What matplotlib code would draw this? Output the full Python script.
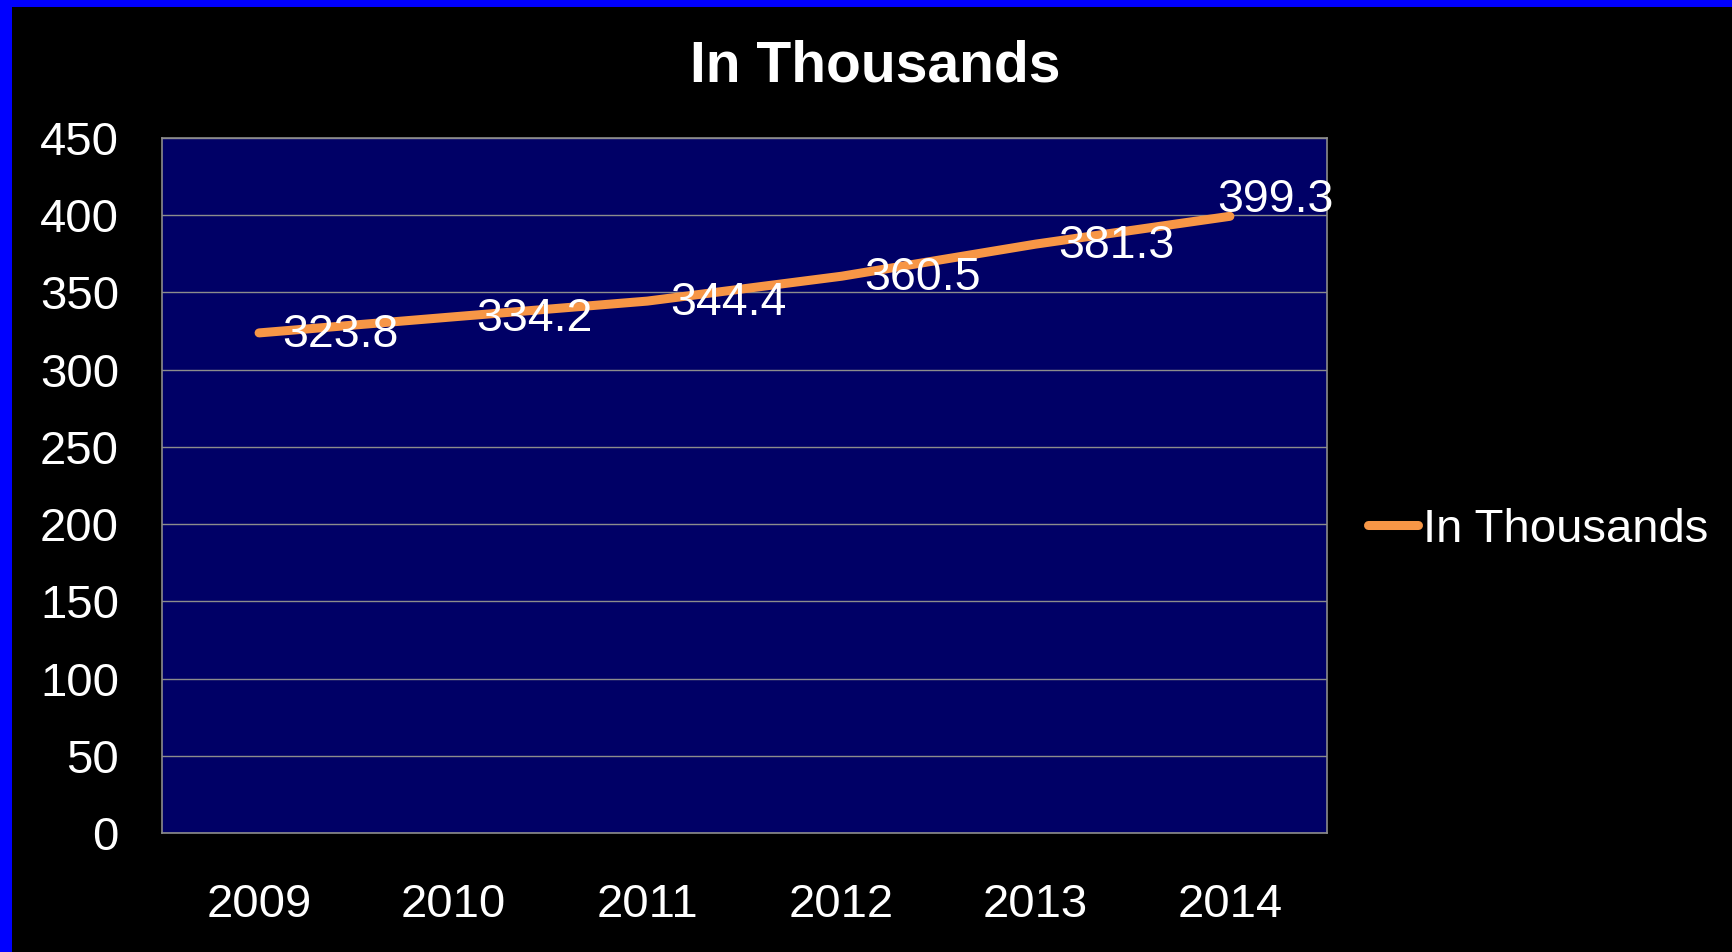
import matplotlib
matplotlib.use('Agg')
from matplotlib import pyplot as plt
from matplotlib.patches import Rectangle

# Data
years = ['2009', '2010', '2011', '2012', '2013', '2014']
values = [323.8, 334.2, 344.4, 360.5, 381.3, 399.3]
series_name = 'In Thousands'
y_ticks = [0, 50, 100, 150, 200, 250, 300, 350, 400, 450]

W, H = 1733, 952
plt.rcParams['font.family'] = ['Liberation Sans', 'DejaVu Sans']

fig = plt.figure(figsize=(W / 100, H / 100), dpi=100, facecolor='black')

# Blue frame on the left and top edges
fig.patches.append(Rectangle((0, 0), 12 / W, 1, transform=fig.transFigure,
                             facecolor='#0000FF', edgecolor='none'))
fig.patches.append(Rectangle((0, 1 - 7 / H), 1, 7 / H, transform=fig.transFigure,
                             facecolor='#0000FF', edgecolor='none'))

ax = fig.add_axes([162 / W, (H - 833) / H, 1165 / W, 695 / H])
ax.set_facecolor('#000066')

x = list(range(len(years)))
ax.plot(x, values, color='#F79646', lw=6.5, solid_capstyle='round',
        solid_joinstyle='round', label=series_name, zorder=3)

# Data labels (last one nudged up/left like the original)
offsets = [(16.5, -1.5)] * (len(values) - 1) + [(-9, 11.5)]
for xi, v, off in zip(x, values, offsets):
    ax.annotate(f'{v:.1f}', (xi, v), xytext=off, textcoords='offset points',
                ha='left', va='center', color='white', fontsize=33.5, zorder=4)

ax.set_xlim(-0.5, len(years) - 0.5)
ax.set_ylim(0, 450)
ax.set_yticks(y_ticks)
ax.set_xticks(x)
ax.set_xticklabels(years)
ax.grid(axis='y', color='#8C8C8C', lw=1)
ax.set_axisbelow(True)
for s in ax.spines.values():
    s.set_color('#8C8C8C')
    s.set_linewidth(1.2)
ax.tick_params(axis='y', length=0, pad=31, labelsize=34, labelcolor='white')
ax.tick_params(axis='x', length=0, pad=36, labelsize=34, labelcolor='white')

fig.text(875 / W, 1 - 82 / H, 'In Thousands', ha='center', va='baseline',
         fontsize=41, fontweight='bold', color='white')

leg = ax.legend(loc='center left', bbox_to_anchor=(1368 / W, 1 - 530 / H),
                bbox_transform=fig.transFigure, frameon=False, fontsize=34,
                handlelength=1.05, handletextpad=0.12, borderpad=0,
                borderaxespad=0)
for t in leg.get_texts():
    t.set_color('white')
for h in leg.get_lines():
    h.set_linewidth(6.5)

fig.savefig('out.png', dpi=100, facecolor='black')
